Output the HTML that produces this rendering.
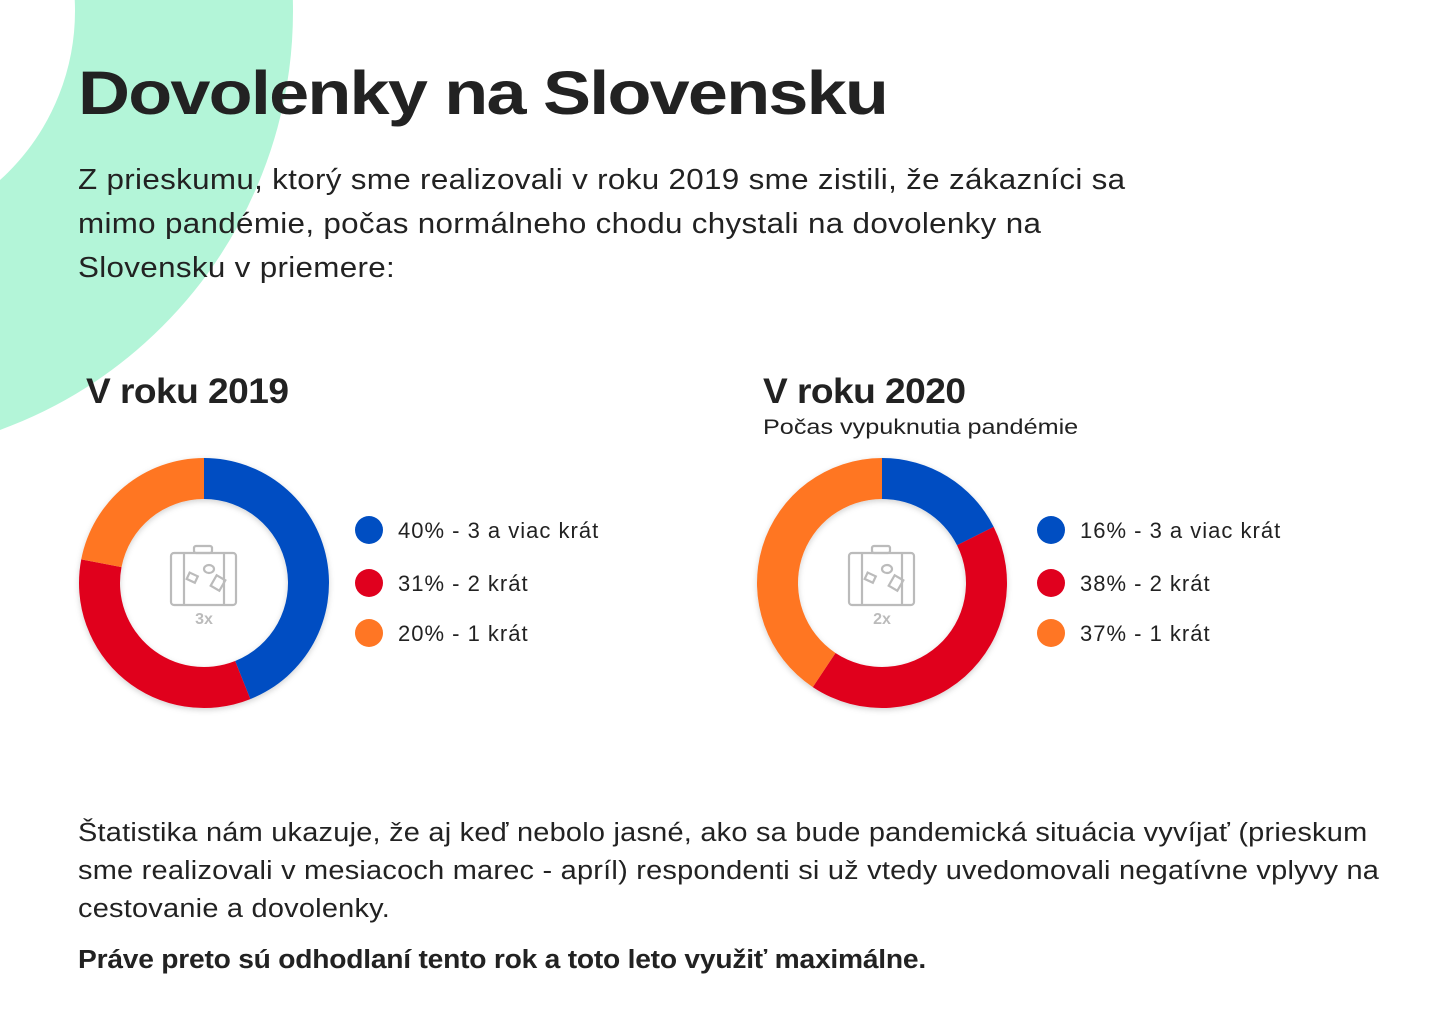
<!DOCTYPE html>
<html><head><meta charset="utf-8"><style>
body{margin:0;width:1446px;height:1020px;background:#fff;overflow:hidden;position:relative;font-family:"Liberation Sans",sans-serif;color:#222}
.t{position:absolute;white-space:nowrap;margin:0;transform-origin:0 0}
</style></head><body>
<svg style="position:absolute;left:0;top:0" width="1446" height="1020">
<circle cx="-153" cy="11" r="337" fill="none" stroke="#b3f5d8" stroke-width="218"/>
</svg>
<h1 class="t" style="left:78px;top:58px;font-size:61px;font-weight:900;letter-spacing:-1.5px;line-height:70px;transform:scaleX(1.18)">Dovolenky na Slovensku</h1>
<p class="t" style="left:78px;top:158px;font-size:28.5px;line-height:44px;letter-spacing:0.3px;transform:scaleX(1.1)">Z prieskumu, ktorý sme realizovali v roku 2019 sme zistili, že zákazníci sa<br>mimo pandémie, počas normálneho chodu chystali na dovolenky na<br>Slovensku v priemere:</p>
<h2 class="t" style="left:86px;top:370px;font-size:35px;font-weight:bold;line-height:44px;letter-spacing:-0.5px;transform:scaleX(1.06)">V roku 2019</h2>
<h2 class="t" style="left:763px;top:370px;font-size:35px;font-weight:bold;line-height:44px;letter-spacing:-0.5px;transform:scaleX(1.06)">V roku 2020</h2>
<div class="t" style="left:763px;top:415px;font-size:21px;line-height:26px;transform:scaleX(1.2)">Počas vypuknutia pandémie</div>
<svg id="charts" style="position:absolute;left:0;top:0" width="1446" height="1020">
<defs><filter id="sh" x="-20%" y="-20%" width="140%" height="140%"><feDropShadow dx="0" dy="2" stdDeviation="3" flood-opacity="0.18"/></filter></defs>
</svg>
<p class="t" style="left:78px;top:814px;font-size:25.5px;line-height:38px;letter-spacing:0.2px;transform:scaleX(1.135)">Štatistika nám ukazuje, že aj keď nebolo jasné, ako sa bude pandemická situácia vyvíjať (prieskum<br>sme realizovali v mesiacoch marec - apríl) respondenti si už vtedy uvedomovali negatívne vplyvy na<br>cestovanie a dovolenky.</p>
<p class="t" style="left:78px;top:944px;font-size:25.5px;font-weight:bold;line-height:32px;letter-spacing:-0.2px;transform:scaleX(1.105)">Práve preto sú odhodlaní tento rok a toto leto využiť maximálne.</p>
<script>
const categories=["3 a viac krát","2 krát","1 krát"];
const values2019=[40,31,20];
const values2020=[16,38,37];
const centerLabels=["3x","2x"];
const colors=["#004ec2","#e0001e","#ff7624"];
const NS="http://www.w3.org/2000/svg";
const svg=document.getElementById('charts');
function mk(t,a){const e=document.createElementNS(NS,t);for(const k in a)e.setAttribute(k,a[k]);return e;}
function pt(cx,cy,r,ang){return [cx+r*Math.sin(ang),cy-r*Math.cos(ang)];}
function donut(vals,cx,cy,label,lx,idx){
  const R=125,r=84,tot=vals.reduce((a,b)=>a+b,0);
  const g=mk('g',{filter:'url(#sh)'});
  
  
  svg.appendChild(g);
  let a0=0;
  vals.forEach((v,i)=>{
    const a1=a0+v/tot*2*Math.PI,lg=(a1-a0)>Math.PI?1:0;
    const p1=pt(cx,cy,R,a0),p2=pt(cx,cy,R,a1),p3=pt(cx,cy,r,a1),p4=pt(cx,cy,r,a0);
    const p=mk('path',{d:`M${p1}A${R},${R} 0 ${lg} 1 ${p2}L${p3}A${r},${r} 0 ${lg} 0 ${p4}Z`,fill:colors[i]});
    
    
    g.appendChild(p);a0=a1;
    const d=mk('circle',{cx:lx,cy:[530,583,633][i],r:14,fill:colors[i]});
    
    
    svg.appendChild(d);
    const t=mk('text',{x:lx+29,y:[530,583,633][i]+8,'font-size':22,'letter-spacing':1,fill:'#222','font-family':'Liberation Sans, sans-serif'});
    t.textContent=v+'% - '+categories[i];
    
    
    svg.appendChild(t);
  });
  const ic=mk('g',{transform:`translate(${cx-34},${cy-38})`,fill:'none',stroke:'#bbb','stroke-width':2.2});
  
  
  ic.innerHTML='<rect x="1" y="8" width="65" height="52" rx="3"/><rect x="24" y="1" width="18" height="7" rx="2"/><line x1="14" y1="8" x2="14" y2="60"/><line x1="54" y1="8" x2="54" y2="60"/><ellipse cx="39" cy="24" rx="5" ry="4"/><rect x="18" y="29" width="9" height="7" transform="rotate(25 22 32)"/><rect x="43" y="32" width="10" height="12" transform="rotate(30 48 38)"/>';
  svg.appendChild(ic);
  const tl=mk('text',{x:cx,y:cy+41,'text-anchor':'middle','font-size':16,'font-weight':'bold',fill:'#bbb','font-family':'Liberation Sans, sans-serif'});
  tl.textContent=label;
  
  
  svg.appendChild(tl);
}
donut(values2019,204,583,centerLabels[0],369,2019);
donut(values2020,882,583,centerLabels[1],1051,2020);
</script>
</body></html>
